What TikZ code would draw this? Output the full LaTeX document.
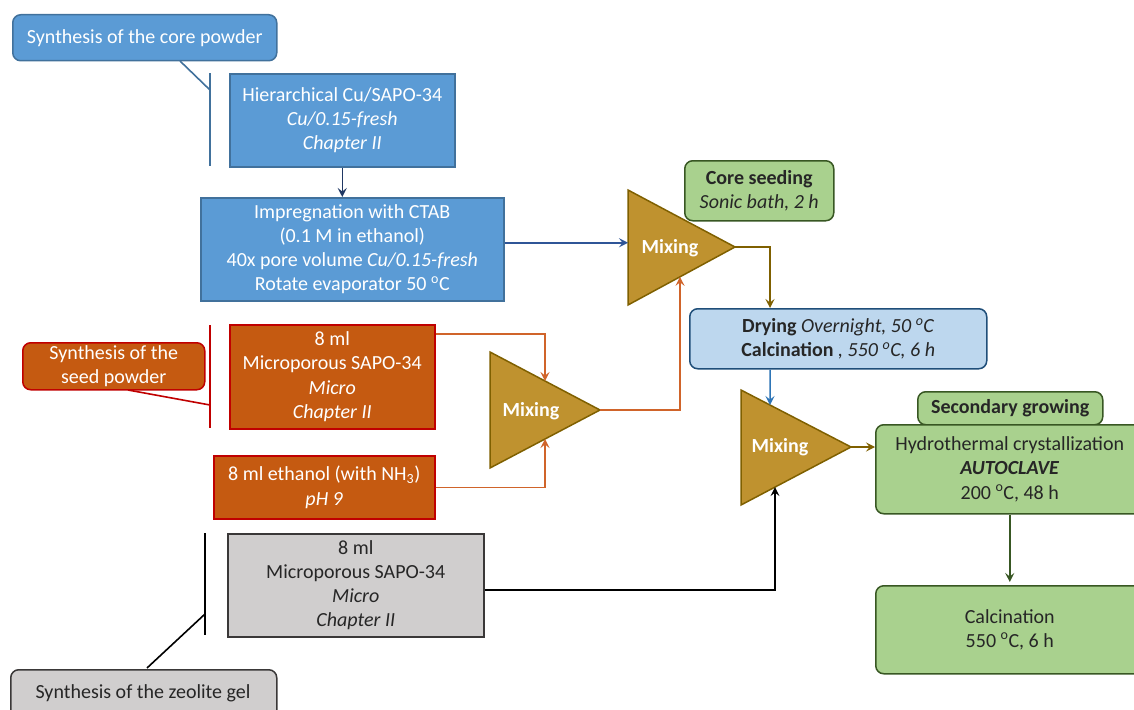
\documentclass[tikz,border=0pt]{standalone}
\usepackage{fontspec}
\setmainfont{Carlito}
\usetikzlibrary{arrows.meta,calc}

\definecolor{coreblue}{HTML}{5B9BD5}
\definecolor{coreline}{HTML}{41719C}
\definecolor{navyarr}{HTML}{203864}
\definecolor{midblue}{HTML}{2F5597}
\definecolor{brightblue}{HTML}{2E75B6}
\definecolor{seedfill}{HTML}{C55A11}
\definecolor{seedline}{HTML}{C00000}
\definecolor{seedarr}{HTML}{D0642A}
\definecolor{mixfill}{HTML}{BF922F}
\definecolor{mixline}{HTML}{7F6000}
\definecolor{greenfill}{HTML}{A9D18E}
\definecolor{greenline}{HTML}{385723}
\definecolor{paleblue}{HTML}{BDD7EE}
\definecolor{paleline}{HTML}{1F4E79}
\definecolor{grayfill}{HTML}{D0CECE}
\definecolor{grayline}{HTML}{3A3838}
\definecolor{ink}{HTML}{262626}

\begin{document}
\begin{tikzpicture}[x=1pt,y=-1pt,
  every node/.style={font=\fontsize{20}{24.2}\selectfont},
  basebox/.style={line width=1.5pt, align=center, inner sep=0pt, anchor=north west},
  bluebox/.style={basebox, draw=coreline, fill=coreblue, text=white},
  seedbox/.style={basebox, draw=seedline, fill=seedfill, text=white},
  greybox/.style={basebox, draw=grayline, fill=grayfill, text=ink},
  greenbox/.style={basebox, draw=greenline, fill=greenfill, text=ink, rounded corners=8pt},
  palebox/.style={basebox, draw=paleline, fill=paleblue, text=ink, rounded corners=8pt},
  mixshape/.style={draw=mixline, fill=mixfill, line width=1.5pt, line join=miter},
  mixtext/.style={text=white, font=\fontsize{20}{24}\selectfont\bfseries},
  brace/.style={line width=1.6pt},
  arr/.style={line width=1.5pt, -{Stealth[length=9pt,width=9pt,inset=3.5pt]}}
]
\clip (0,0) rectangle (1134,709);

% ---- core powder branch ----
\node[bluebox, rounded corners=8pt, minimum width=264pt, minimum height=46pt] (corecall) at (12,14)
  {Synthesis of the core powder};
\coordinate (coretail) at (180,61);
\coordinate (corebrT) at (210,73);
\coordinate (corebrM) at (210,90);
\coordinate (corebrB) at (210,166);
\draw[brace, draw=coreline] (corebrT) -- (corebrB);
\draw[brace, draw=coreline] (coretail) -- (corebrM);

\node[bluebox, minimum width=225pt, minimum height=93pt] (hier) at (229,73)
  {Hierarchical Cu/SAPO-34\\ \textit{Cu/0.15-fresh}\\ \textit{Chapter II}};
\node[bluebox, minimum width=303pt, minimum height=103pt] (imp) at (200,197)
  {Impregnation with CTAB\\ (0.1 M in ethanol)\\ 40x pore volume \textit{Cu/0.15-fresh}\\ Rotate evaporator 50 \textsuperscript{o}C};

% ---- seed powder branch ----
\node[seedbox, rounded corners=8pt, minimum width=182pt, minimum height=47pt] (seedcall) at (22,342)
  {Synthesis of the\\ seed powder};
\coordinate (seedtail) at (128,390);
\coordinate (seedbrT) at (210,325);
\coordinate (seedbrM) at (210,405);
\coordinate (seedbrB) at (210,428);
\draw[brace, draw=seedline] (seedbrT) -- (seedbrB);
\draw[brace, draw=seedline] (seedtail) -- (seedbrM);

\node[seedbox, minimum width=205pt, minimum height=104pt] (micro) at (229,324)
  {8 ml\\ Microporous SAPO-34\\ \textit{Micro}\\ \textit{Chapter II}};
\node[seedbox, minimum width=221pt, minimum height=63pt] (eth) at (213,455)
  {8 ml ethanol (with NH\textsubscript{3})\\ \textit{pH 9}};

% ---- zeolite gel branch ----
\node[greybox, rounded corners=8pt, minimum width=266pt, minimum height=56pt] (gelcall) at (10,669)
  {};
\node[text=ink] (geltext) at (143,693) {Synthesis of the zeolite gel};
\coordinate (geltail) at (147,668);
\coordinate (gelbrT) at (205,533);
\coordinate (gelbrM) at (205,614);
\coordinate (gelbrB) at (205,635);
\draw[brace, draw=black] (gelbrT) -- (gelbrB);
\draw[brace, draw=black] (geltail) -- (gelbrM);

\node[greybox, minimum width=256pt, minimum height=103pt] (gray) at (227,533)
  {8 ml\\ Microporous SAPO-34\\ \textit{Micro}\\ \textit{Chapter II}};

% ---- mixing stages ----
\coordinate (t1a) at (628,190);
\coordinate (t1b) at (628,305);
\coordinate (t1c) at (735,247);
\draw[mixshape] (t1a) -- (t1c) -- (t1b) -- cycle;
\node[mixtext] (mix1) at (670,248) {Mixing};

\coordinate (t3a) at (490,352);
\coordinate (t3b) at (490,468);
\coordinate (t3c) at (600,410);
\draw[mixshape] (t3a) -- (t3c) -- (t3b) -- cycle;
\node[mixtext] (mix3) at (531,411) {Mixing};

\coordinate (t2a) at (741,390);
\coordinate (t2b) at (741,505);
\coordinate (t2c) at (851,447);
\draw[mixshape] (t2a) -- (t2c) -- (t2b) -- cycle;
\node[mixtext] (mix2) at (780,447) {Mixing};

% ---- process boxes ----
\node[greenbox, minimum width=149pt, minimum height=60pt] (seeding) at (684,160)
  {\textbf{Core seeding}\\ \textit{Sonic bath, 2 h}};
\node[palebox, minimum width=297pt, minimum height=60pt] (dry) at (689,308)
  {\textbf{Drying} \textit{Overnight, 50 \textsuperscript{o}C}\\ \textbf{Calcination} \textit{, 550 \textsuperscript{o}C, 6 h}};
\node[greenbox, minimum width=185pt, minimum height=33pt] (second) at (917,391)
  {\textbf{Secondary growing}};
\node[greenbox, minimum width=268pt, minimum height=89pt] (hydro) at (875,424)
  {Hydrothermal crystallization\\ \textbf{\textit{AUTOCLAVE}}\\ 200 \textsuperscript{o}C, 48 h};
\node[greenbox, minimum width=268pt, minimum height=88pt] (calc) at (875,585)
  {Calcination\\ 550 \textsuperscript{o}C, 6 h};

% ---- connectors ----
\draw[arr, draw=navyarr] (hier.south) -- (hier.south |- imp.north);
\draw[arr, draw=midblue] ([yshift=6.5pt]imp.east) -- ([yshift=6.5pt]imp.east -| t1a);
\draw[arr, draw=seedarr] ([yshift=-10pt]micro.north east) -| ($(t3a)!0.5!(t3c)$);
\draw[arr, draw=seedarr] (eth.east) -| ($(t3b)!0.5!(t3c)$);
\draw[arr, draw=seedarr] (t3c) -| ($(t1b)!0.486!(t1c)$);
\draw[arr, draw=mixline] (t1c) -| ([xshift=81pt]dry.north west);
\draw[arr, draw=brightblue] ([xshift=81pt]dry.south west) -- ($(t2a)!0.2636!(t2c)$);
\draw[arr, draw=black, line width=2.2pt] ([yshift=-4.5pt]gray.east) -| ($(t2b)!0.309!(t2c)$);
\draw[arr, draw=mixline] (t2c) -- (t2c -| hydro.west);
\draw[arr, draw=greenline] (hydro.south) -- ([yshift=3pt]calc.north);
\end{tikzpicture}
\end{document}
